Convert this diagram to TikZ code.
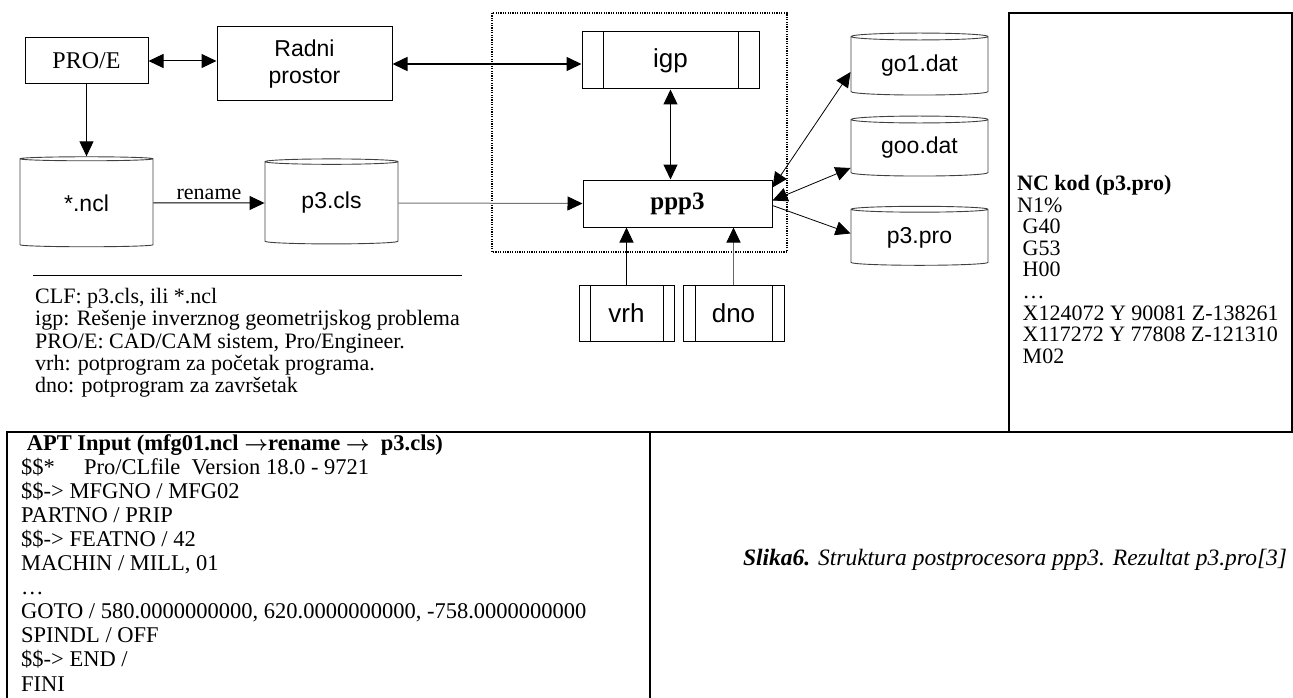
\documentclass[tikz,border=0pt]{standalone}
\usepackage{fontspec}
\setmainfont{Liberation Serif}
\setsansfont{Liberation Sans}
\usetikzlibrary{shapes.geometric,arrows.meta}

\newcommand{\fsz}[2]{\fontsize{#1}{#2}\selectfont}
\newcommand{\aptarrow}{{\boldmath$\rightarrow$}}

\begin{document}
\begin{tikzpicture}[
    x=1pt, y=-1pt,
    box/.style={draw, line width=1pt, inner sep=0pt},
    subproc/.style={
        box,
        path picture={
            \draw[line width=1pt] ([xshift=#1]path picture bounding box.north west)
                -- ([xshift=#1]path picture bounding box.south west);
            \draw[line width=1pt] ([xshift=-#1]path picture bounding box.north east)
                -- ([xshift=-#1]path picture bounding box.south east);
        }
    },
    subproc/.default=12pt,
    store/.style={
        cylinder, shape border rotate=90, aspect=0.09,
        draw=black!75, line width=0.9pt, inner sep=0pt,
        font=\sffamily\fsz{23}{26}
    },
    tip/.style={-{Triangle[length=15pt,width=14pt,color=black]}},
    twotip/.style={{Triangle[length=15pt,width=14pt]}-{Triangle[length=15pt,width=14pt]}},
    codetext/.style={align=left, anchor=north west, inner sep=0pt}
]
\useasboundingbox (0,0) rectangle (1293,698);

% Frame round the postprocessor
\draw[line width=1.2pt, dash pattern=on 1.2pt off 1.2pt] (492,13) rectangle (787,252);

% Boxes
\node[box, minimum width=123pt, minimum height=46pt, font=\fsz{24}{26}] (proe) at (86.5,61) {PRO/E};
\node[box, minimum width=175pt, minimum height=74pt, align=center, font=\sffamily\fsz{23}{27}]
    (radni) at (304.5,64) {Radni\\prostor};
\node[subproc=21pt, minimum width=177pt, minimum height=57pt, font=\sffamily\fsz{26}{28}]
    (igp) at (670.5,60.5) {igp};
\node[box, minimum width=189pt, minimum height=47pt, font=\bfseries\fsz{25}{27}]
    (ppp3) at (677.5,203.5) {ppp3};
\node[subproc=11pt, minimum width=95pt, minimum height=56pt, font=\sffamily\fsz{26}{28}]
    (vrh) at (626.5,313) {vrh};
\node[subproc=12pt, minimum width=101pt, minimum height=56pt, font=\sffamily\fsz{26}{28}]
    (dno) at (733.5,313) {dno};

% Files
\node[store, minimum width=133pt, minimum height=90pt] (ncl) at (86.5,203) {*.ncl};
\node[store, minimum width=133pt, minimum height=85pt] (p3cls) at (331.5,203) {p3.cls};
\node[store, minimum width=137pt, minimum height=62pt] (go1) at (919.5,66) {go1.dat};
\node[store, minimum width=137pt, minimum height=60pt] (goo) at (919.5,148) {goo.dat};
\node[store, minimum width=137pt, minimum height=59pt] (p3pro) at (919.5,237.5) {p3.pro};

% Connections
\draw[twotip, line width=1pt] (proe.east) -- (proe.east -| radni.west);
\draw[twotip, line width=1.6pt] (radni.east) -- (radni.east -| igp.west);
\draw[tip, line width=1pt] (proe.south) -- (ncl.north);
\draw[tip, line width=1pt] (ncl.east) -- node[above, inner sep=3pt, font=\fsz{22}{24}] (renamelbl) {rename} (p3cls.west);
\draw[tip, line width=1pt, draw=black!55] (p3cls.east) -- (ppp3.west);
\draw[twotip, line width=1.3pt] (igp.south) -- (igp.south |- ppp3.north);
\draw[tip, line width=1pt] (vrh.north) -- (vrh.north |- ppp3.south);
\draw[tip, line width=1pt, draw=black!60] (dno.north) -- (dno.north |- ppp3.south);
\draw[twotip, line width=0.8pt] ([yshift=16pt]ppp3.east) -- ([yshift=-6pt]go1.west);
\draw[twotip, line width=0.8pt] ([yshift=3pt]ppp3.east) -- ([yshift=-20pt]goo.west);
\draw[tip, line width=0.8pt] ([yshift=-2pt]ppp3.east) -- ([yshift=4pt]p3pro.west);

% Legend
\draw[line width=1pt] (33,275) -- (462,275);
\node[codetext, font=\fsz{22}{22.3}] (legend) at (35,288) {%
    CLF: p3.cls, ili *.ncl\\
    igp: Rešenje inverznog geometrijskog problema\\
    PRO/E: CAD/CAM sistem, Pro/Engineer.\\
    vrh: potprogram za početak programa.\\
    dno: potprogram za završetak};

% Text boxes
\draw[line width=2pt] (7,710) -- (7,432) -- (1292,432) -- (1292,13) -- (1009,13) -- (1009,432);
\draw[line width=2pt] (650,432) -- (650,710);

\node[codetext, font=\fsz{22}{21.6}] (nccode) at (1017,175) {%
    \textbf{NC kod (p3.pro)}\\
    N1\%\\
    ~G40\\
    ~G53\\
    ~H00\\
    ~…\\
    ~X124072 Y 90081 Z-138261\\
    ~X117272 Y 77808 Z-121310\\
    ~M02};

\node[codetext, font=\fsz{22.5}{24.1}] (aptcode) at (21,434) {%
    ~\textbf{APT Input (mfg01.ncl \aptarrow rename \aptarrow\ \ p3.cls)}\\
    \makebox[63pt][l]{\$\$*}Pro/CLfile\ \ Version 18.0 - 9721\\
    \$\$-> MFGNO / MFG02\\
    PARTNO / PRIP\\
    \$\$-> FEATNO / 42\\
    MACHIN / MILL, 01\\
    …\\
    GOTO / 580.0000000000, 620.0000000000, -758.0000000000\\
    SPINDL / OFF\\
    \$\$-> END /\\
    FINI};

\node[font=\fsz{23.5}{26}, inner sep=0pt] (caption) at (1015,560)
    {\textbf{\textit{Slika6.}} \textit{Struktura postprocesora ppp3. Rezultat p3.pro[3]}};

\end{tikzpicture}
\end{document}
